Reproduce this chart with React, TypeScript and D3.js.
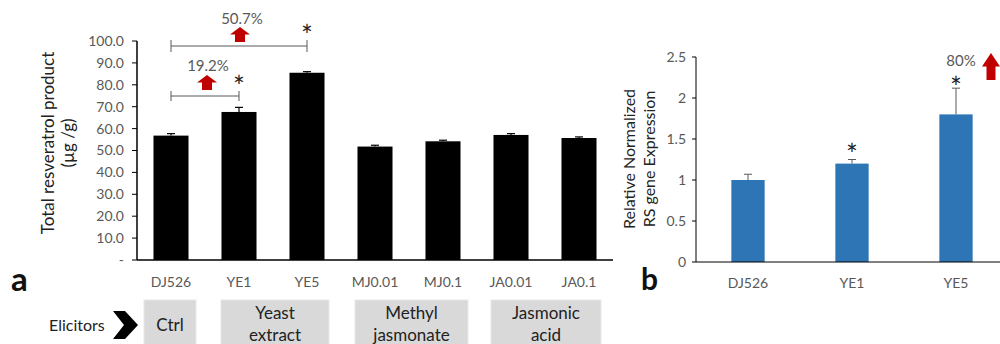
import React from "react";
import * as d3 from "d3";

const catsA = ["DJ526", "YE1", "YE5", "MJ0.01", "MJ0.1", "JA0.01", "JA0.1"];
const valsA = [56.8, 67.6, 85.5, 51.8, 54.2, 57.1, 55.7];
const errsA = [0.9, 2.1, 0.5, 0.6, 0.5, 0.6, 0.5];
const ticksA = [0, 10, 20, 30, 40, 50, 60, 70, 80, 90, 100];

const catsB = ["DJ526", "YE1", "YE5"];
const valsB = [1.0, 1.2, 1.8];
const errsB = [0.07, 0.05, 0.32];
const ticksB = [0, 0.5, 1, 1.5, 2, 2.5];

const groups = [
  { lines: ["Ctrl"], x0: 144, x1: 196 },
  { lines: ["Yeast", "extract"], x0: 221, x1: 329 },
  { lines: ["Methyl", "jasmonate"], x0: 355, x1: 468 },
  { lines: ["Jasmonic", "acid"], x0: 491, x1: 601 },
];

const FONT = "Lato, 'Open Sans', sans-serif";
const GRAY = "#595959";

function UpArrow({ cx, top, bottom, w }: { cx: number; top: number; bottom: number; w: number }) {
  const h = bottom - top;
  const headH = h * 0.5;
  const sw = w * 0.5;
  const pts = [
    [cx, top],
    [cx + w / 2, top + headH],
    [cx + sw / 2, top + headH],
    [cx + sw / 2, bottom],
    [cx - sw / 2, bottom],
    [cx - sw / 2, top + headH],
    [cx - w / 2, top + headH],
  ];
  return <polygon points={pts.map((p) => p.join(",")).join(" ")} fill="#c00000" />;
}

export default function App() {
  const xA = d3.scaleBand().domain(catsA).range([137, 613]).paddingInner(0.485).paddingOuter(0.2425);
  const yA = d3.scaleLinear().domain([0, 100]).range([260, 41]);
  const xB = d3.scaleBand().domain(catsB).range([696, 1008]).paddingInner(0.68).paddingOuter(0.34);
  const yB = d3.scaleLinear().domain([0, 2.5]).range([262, 57]);
  const cA = (c: string) => (xA(c) as number) + xA.bandwidth() / 2;
  const cB = (c: string) => (xB(c) as number) + xB.bandwidth() / 2;

  return (
    <svg width={1000} height={344} style={{ position: "absolute", left: 0, top: 0, background: "#fff" }} fontFamily={FONT}>
      {/* Panel a */}
      {ticksA.map((t) => (
        <g key={"ta" + t}>
          <line x1={132} x2={137} y1={yA(t)} y2={yA(t)} stroke="#000" strokeWidth={1} />
          <text x={124} y={yA(t)} dy="0.35em" textAnchor="end" fontSize={14} fill={GRAY}>
            {t === 0 ? "-" : d3.format(".1f")(t)}
          </text>
        </g>
      ))}
      {catsA.map((c, i) => (
        <g key={"ba" + c}>
          <rect x={xA(c)} y={yA(valsA[i])} width={xA.bandwidth()} height={yA(0) - yA(valsA[i])} fill="#000" />
          <line x1={cA(c)} x2={cA(c)} y1={yA(valsA[i])} y2={yA(valsA[i] + errsA[i])} stroke="#000" strokeWidth={1.2} />
          <line x1={cA(c) - 4} x2={cA(c) + 4} y1={yA(valsA[i] + errsA[i])} y2={yA(valsA[i] + errsA[i])} stroke="#000" strokeWidth={1.2} />
          <text x={cA(c)} y={287} textAnchor="middle" fontSize={14} fill={GRAY}>{c}</text>
        </g>
      ))}
      <line x1={137} x2={137} y1={yA(100)} y2={yA(0)} stroke="#000" strokeWidth={1.5} />
      <line x1={137} x2={613} y1={yA(0)} y2={yA(0)} stroke="#000" strokeWidth={1.5} />
      <text transform="translate(54,143) rotate(-90)" textAnchor="middle" fontSize={17} fill="#222">Total resveratrol product</text>
      <text transform="translate(74,143) rotate(-90)" textAnchor="middle" fontSize={17} fill="#222">(µg /g)</text>
      <text x={11} y={291} fontSize={33} fontWeight="bold" fill="#111">a</text>

      {/* brackets */}
      <g stroke={GRAY} strokeWidth={1}>
        <line x1={cA("DJ526")} x2={cA("YE1")} y1={96} y2={96} />
        <line x1={cA("DJ526")} x2={cA("DJ526")} y1={91} y2={101} />
        <line x1={cA("YE1")} x2={cA("YE1")} y1={91} y2={101} />
        <line x1={cA("DJ526")} x2={cA("YE5")} y1={46} y2={46} />
        <line x1={cA("DJ526")} x2={cA("DJ526")} y1={40} y2={52} />
        <line x1={cA("YE5")} x2={cA("YE5")} y1={40} y2={52} />
      </g>
      <UpArrow cx={207} top={75} bottom={90} w={20} />
      <UpArrow cx={240} top={27} bottom={42} w={20} />
      <text x={208} y={71} textAnchor="middle" fontSize={15} fill={GRAY}>19.2%</text>
      <text x={242} y={24} textAnchor="middle" fontSize={15} fill={GRAY}>50.7%</text>
      <text x={cA("YE1")} y={97} textAnchor="middle" fontSize={28} fill="#222">*</text>
      <text x={cA("YE5")} y={46} textAnchor="middle" fontSize={28} fill="#222">*</text>

      {/* elicitors */}
      <text x={49} y={325} dy="0.35em" fontSize={16} fill="#222">Elicitors</text>
      <polygon points="113,311 125,311 138,325 125,339 113,339 124,325" fill="#000" />
      {groups.map((g) => (
        <g key={g.lines.join("")}>
          <rect x={g.x0} y={300} width={g.x1 - g.x0} height={50} fill="#d9d9d9" stroke="#e8e8e8" />
          {g.lines.map((l, j) => (
            <text key={l} x={(g.x0 + g.x1) / 2} y={g.lines.length === 1 ? 325 : 313 + j * 22} dy="0.35em" textAnchor="middle" fontSize={17} fill="#222">{l}</text>
          ))}
        </g>
      ))}

      {/* Panel b */}
      {ticksB.map((t) => (
        <g key={"tb" + t}>
          <line x1={692} x2={696} y1={yB(t)} y2={yB(t)} stroke="#000" strokeWidth={1} />
          <text x={686} y={yB(t)} dy="0.35em" textAnchor="end" fontSize={14} fill={GRAY}>{String(t)}</text>
        </g>
      ))}
      {catsB.map((c, i) => (
        <g key={"bb" + c}>
          <rect x={xB(c)} y={yB(valsB[i])} width={xB.bandwidth()} height={yB(0) - yB(valsB[i])} fill="#2e75b6" />
          <line x1={cB(c)} x2={cB(c)} y1={yB(valsB[i])} y2={yB(valsB[i] + errsB[i])} stroke={GRAY} strokeWidth={1} />
          <line x1={cB(c) - 4} x2={cB(c) + 4} y1={yB(valsB[i] + errsB[i])} y2={yB(valsB[i] + errsB[i])} stroke={GRAY} strokeWidth={1} />
          <text x={cB(c)} y={288} textAnchor="middle" fontSize={14} fill={GRAY}>{c}</text>
        </g>
      ))}
      <line x1={696} x2={696} y1={yB(2.5)} y2={yB(0)} stroke="#000" strokeWidth={1} />
      <line x1={696} x2={1000} y1={yB(0)} y2={yB(0)} stroke="#000" strokeWidth={1} />
      <text transform="translate(635,159) rotate(-90)" textAnchor="middle" fontSize={16} fill="#222">Relative Normalized</text>
      <text transform="translate(655,159) rotate(-90)" textAnchor="middle" fontSize={16} fill="#222">RS gene Expression</text>
      <text x={641} y={290} fontSize={30} fontWeight="bold" fill="#111">b</text>
      <text x={cB("YE1")} y={165} textAnchor="middle" fontSize={28} fill="#222">*</text>
      <text x={cB("YE5")} y={98} textAnchor="middle" fontSize={28} fill="#222">*</text>
      <text x={961} y={66} textAnchor="middle" fontSize={15} fill={GRAY}>80%</text>
      <UpArrow cx={991} top={53} bottom={80} w={18} />
    </svg>
  );
}
